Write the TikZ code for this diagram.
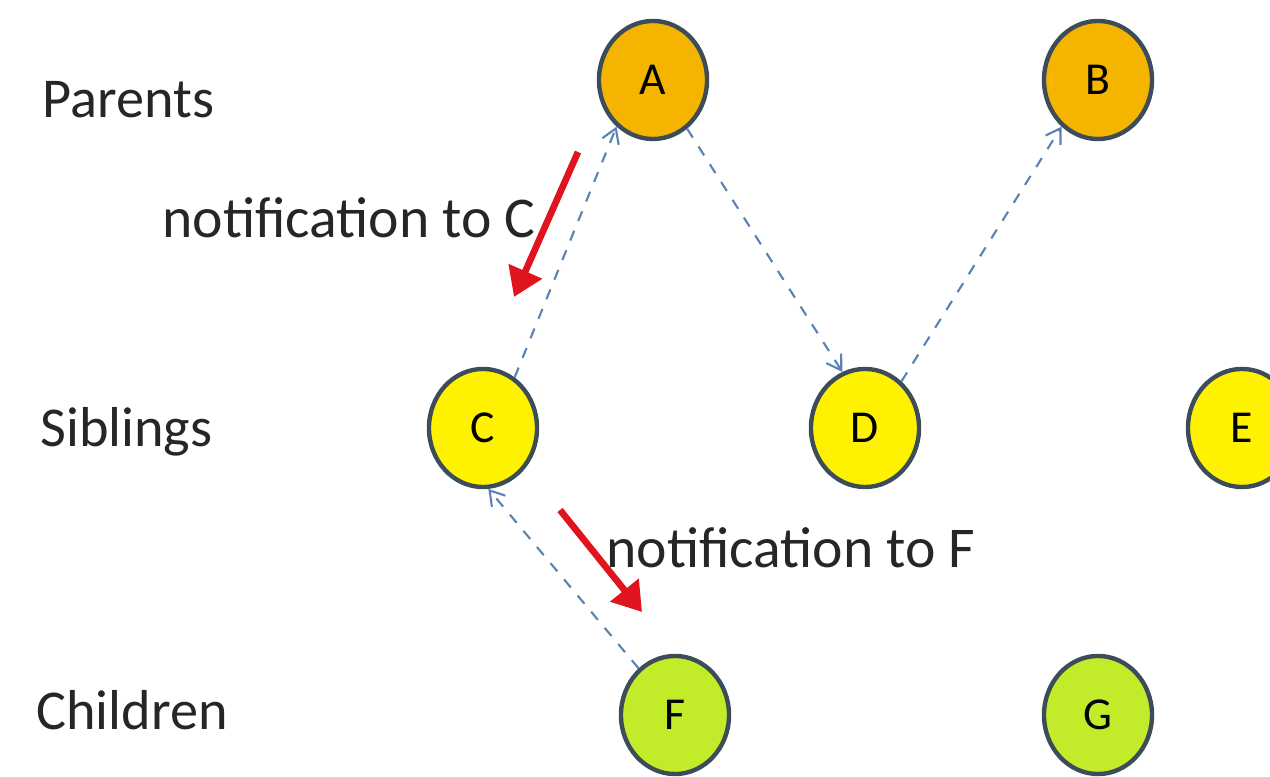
\documentclass[tikz,border=0pt]{standalone}
\usepackage{fontspec}
\setmainfont{Carlito}
\usetikzlibrary{shapes.geometric,arrows.meta}
\definecolor{parentcol}{HTML}{F5B400}
\definecolor{sibcol}{HTML}{FFF200}
\definecolor{childcol}{HTML}{C2EC2A}
\definecolor{rimcol}{HTML}{3C4C58}
\definecolor{linkcol}{HTML}{5A82B4}
\definecolor{notecol}{HTML}{E0141E}
\begin{document}
\begin{tikzpicture}[>=latex, x=0.01cm, y=-0.01cm,
  member/.style={ellipse, draw=rimcol, line width=1.25pt, minimum width=1.08cm,
    minimum height=1.18cm, inner sep=0pt, font=\fontsize{13}{15}\selectfont},
  link/.style={-{Straight Barb[length=4pt,width=5pt]}, dashed, draw=linkcol, line width=0.6pt},
  note/.style={-{Triangle[length=8pt,width=10pt]}, draw=notecol, fill=notecol, line width=1.9pt},
  rowlabel/.style={anchor=west, text=black!85, font=\fontsize{16}{18}\selectfont},
  notelabel/.style={anchor=west, text=black!85, font=\fontsize{16.4}{19}\selectfont}]
\useasboundingbox (0,0) rectangle (1270,777);
\clip (0,0) rectangle (1270,777);
% row labels
\foreach \name/\x/\y/\lab in {par/30/100/Parents, sib/28/432/Siblings, chi/24/710/Children}
{
    \node[rowlabel] (\name) at (\x,\y) {\lab};
}
% members
\foreach \n/\x/\y/\c in {A/653/80/parentcol, B/1098/80/parentcol,
    C/483/428/sibcol, D/865/428/sibcol, E/1242/428/sibcol,
    F/675/715/childcol, G/1098/715/childcol}
{
    \node[member, fill=\c] (\n) at (\x,\y) {\n};
}
% dashed links
\draw[link] (C.58) -- (A.232);
\draw[link] (A.305) -- (D.112);
\draw[link] (D.52) -- (B.232);
\draw[link] (F.128) -- (C.275);
% notifications
\coordinate (n1s) at (578,152);
\coordinate (n1e) at (514,297);
\coordinate (n2s) at (560,510);
\coordinate (n2e) at (642,612);
\draw[note] (n1s) -- (n1e);
\draw[note] (n2s) -- (n2e);
\node[notelabel] (toC) at (150,218) {notification to C};
\node[notelabel] (toF) at (594,548) {notification to F};
\end{tikzpicture}
\end{document}
